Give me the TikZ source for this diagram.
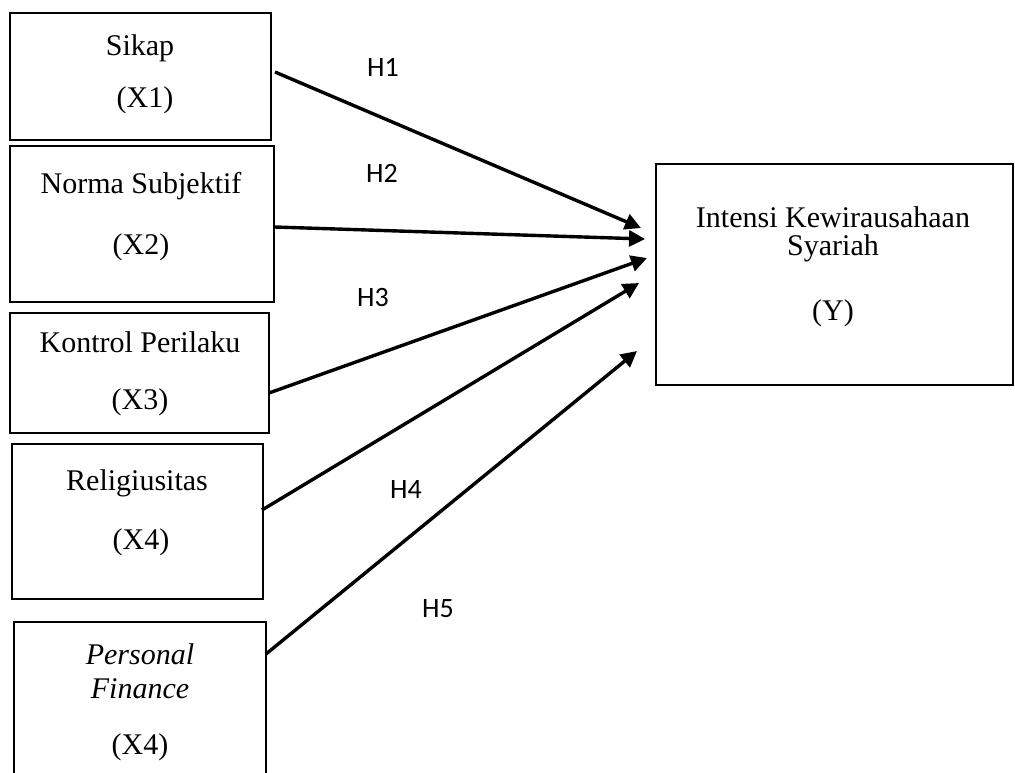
\documentclass[tikz,border=0pt]{standalone}
\usepackage{fontspec}
\setmainfont{Liberation Serif}
\newfontfamily\hfont{Carlito}
\usetikzlibrary{arrows.meta}
\begin{document}
\begin{tikzpicture}[
                          x=0.5pt,y=-0.5pt,
                          box/.style 2 args={draw,line width=1pt,minimum width=#1*0.5pt,minimum height=#2*0.5pt,inner sep=0pt},
                          txt/.style={font=\fontsize{15}{18}\selectfont,inner sep=0pt},
                          hyp/.style={font=\hfont\fontsize{14}{16}\selectfont,inner sep=0pt},
                          arr/.style={-{Triangle[length=8pt,width=8pt]},line width=1.7pt}
                        ]
                        \useasboundingbox (0,0) rectangle (1015,772);
                        \clip (0,0) rectangle (1015,772);

                        % variabel bebas
                        \node[box={261}{127}] (x1) at (140.5,76.5) {};
                        \node[box={264}{156}] (x2) at (142,224) {};
                        \node[box={259}{120}] (x3) at (139.5,373) {};
                        \node[box={251}{155}] (x4) at (137.5,521.5) {};
                        \node[box={252}{168}] (x5) at (140,706) {};
                        % variabel terikat
                        \node[box={357}{221}] (y) at (834.5,274.5) {};

                        \node[txt] (t1a) at (140,48) {Sikap};
                        \node[txt] (t1b) at (145,100) {(X1)};
                        \node[txt] (t2a) at (141,186) {Norma Subjektif};
                        \node[txt] (t2b) at (141,247) {(X2)};
                        \node[txt] (t3a) at (140,342) {Kontrol Perilaku};
                        \node[txt] (t3b) at (140,402) {(X3)};
                        \node[txt] (t4a) at (137,483) {Religiusitas};
                        \node[txt] (t4b) at (141,542) {(X4)};
                        \node[txt] (t5a) at (140,654) {\itshape Personal};
                        \node[txt] (t5b) at (140,689) {\itshape Finance};
                        \node[txt] (t5c) at (140,747) {(X4)};
                        \node[txt] (tya) at (833,217) {Intensi Kewirausahaan};
                        \node[txt] (tyb) at (833,248) {Syariah};
                        \node[txt] (tyc) at (833,313) {(Y)};

                        % hipotesis
                        \coordinate (s1) at (275,72);   \coordinate (e1) at (641,228);
                        \coordinate (s2) at (275,227);  \coordinate (e2) at (645,239);
                        \coordinate (s3) at (269,393);  \coordinate (e3) at (647,258);
                        \coordinate (s4) at (262,510);  \coordinate (e4) at (639,283);
                        \coordinate (s5) at (266,654);  \coordinate (e5) at (637,351);
                        \foreach \i in {1,...,5} {
                            \draw[arr] (s\i) -- (e\i);
                          }

                        \node[hyp] (h1) at (383,67) {H1};
                        \node[hyp] (h2) at (382,173) {H2};
                        \node[hyp] (h3) at (373,298) {H3};
                        \node[hyp] (h4) at (406,489) {H4};
                        \node[hyp] (h5) at (438,609) {H5};
                      \end{tikzpicture}
\end{document}
